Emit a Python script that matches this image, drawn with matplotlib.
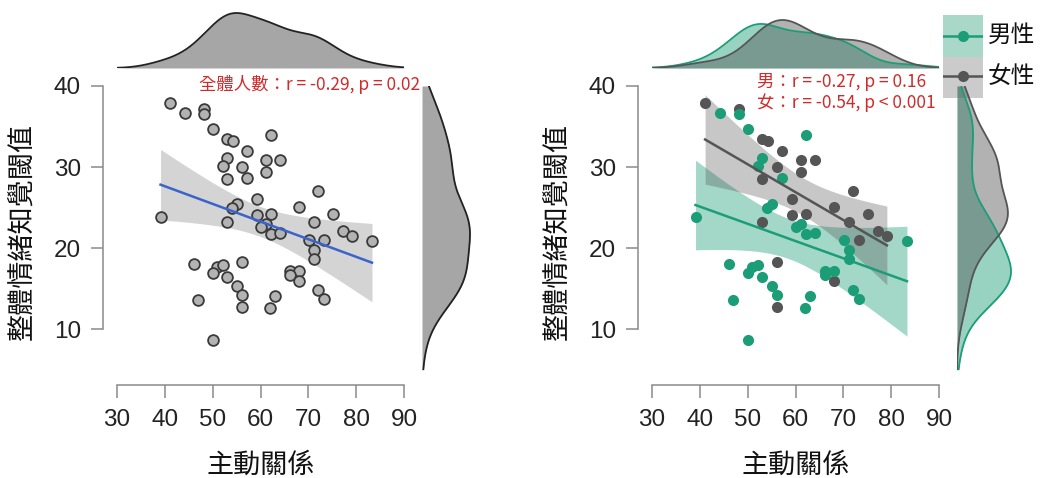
import numpy as np
import matplotlib
matplotlib.use('Agg')
import matplotlib.pyplot as plt
from matplotlib.patches import Rectangle

plt.rcParams['font.family'] = ['Noto Sans CJK TC', 'DejaVu Sans']

# 主動關係 (x), 整體情緒知覺閾值 (y), sex
active = [41.1, 44.2, 48.1, 48.1, 50.1, 53.1, 54.2, 62.1, 57.1, 53.1,
          52.1, 56.1, 61.1, 64.1, 61.1, 53.1, 57.1, 72.1, 59.2, 55.0,
          54.0, 68.1, 39.1, 53.1, 59.2, 62.2, 61.1, 60.1, 62.2, 64.1,
          71.1, 75.1, 70.2, 73.2, 77.2, 79.1, 83.3, 71.1, 71.1, 46.1,
          51.0, 52.1, 50.1, 53.1, 56.1, 66.1, 68.1, 66.1, 68.1, 55.0,
          56.1, 72.1, 73.2, 47.0, 56.1, 63.1, 62.0, 50.1]
thresh = [37.9, 36.7, 37.2, 36.5, 34.7, 33.5, 33.2, 34.0, 32.0, 31.1,
          30.1, 30.0, 30.9, 30.9, 29.4, 28.5, 28.7, 27.1, 26.1, 25.4,
          25.0, 25.1, 23.8, 23.3, 24.1, 24.2, 23.0, 22.6, 21.8, 21.9,
          23.3, 24.2, 21.0, 21.0, 22.1, 21.5, 20.9, 19.8, 18.7, 18.1,
          17.7, 17.9, 16.9, 16.5, 18.3, 17.2, 17.2, 16.7, 16.0, 15.3,
          14.3, 14.8, 13.7, 13.6, 12.8, 14.1, 12.7, 8.7]
sex = ['F', 'M', 'F', 'M', 'M', 'F', 'F', 'M', 'F', 'M',
       'M', 'F', 'F', 'F', 'F', 'F', 'M', 'F', 'F', 'M',
       'M', 'F', 'M', 'F', 'F', 'F', 'M', 'M', 'M', 'M',
       'F', 'F', 'M', 'F', 'F', 'F', 'M', 'M', 'M', 'M',
       'M', 'M', 'M', 'M', 'F', 'M', 'M', 'M', 'F', 'M',
       'M', 'M', 'M', 'M', 'F', 'M', 'M', 'M']

xticks = [30, 40, 50, 60, 70, 80, 90]
yticks = [10, 20, 30, 40]
xlabel = '主動關係'
ylabel = '整體情緒知覺閾值'
txt_all = '全體人數：r = -0.29, p = 0.02'
txt_m = '男：r = -0.27, p = 0.16'
txt_f = '女：r = -0.54, p < 0.001'
legend_labels = ['男性', '女性']

GREEN = '#1b9e77'
DARK = '#555555'
RED = '#d02b2b'
AXC = '#8a8a8a'

x_all = np.array(active)
y_all = np.array(thresh)
is_m = np.array(sex) == 'M'
t_crit = {56: 2.003, 32: 2.037, 22: 2.074}

W, H = 1043, 478
fig = plt.figure(figsize=(W / 100, H / 100), dpi=100)


def rect(x0, y0, x1, y1):
    return [x0 / W, 1 - y1 / H, (x1 - x0) / W, (y1 - y0) / H]


def kde(v, grid):
    n = len(v)
    iqr = np.subtract(*np.percentile(v, [75, 25]))
    bw = 0.9 * min(v.std(ddof=1), iqr / 1.34) * n ** -0.2
    z = (grid[:, None] - v[None, :]) / bw
    return np.exp(-0.5 * z ** 2).sum(1) / (n * bw * np.sqrt(2 * np.pi))


def fit_ci(x, y):
    n = len(x)
    grid = np.linspace(x.min(), x.max(), 100)
    b, a = np.polyfit(x, y, 1)
    s = np.sqrt(((y - (a + b * x)) ** 2).sum() / (n - 2))
    se = s * np.sqrt(1 / n + (grid - x.mean()) ** 2 / ((x - x.mean()) ** 2).sum())
    fit = a + b * grid
    t = t_crit[n - 2]
    return grid, fit, fit - t * se, fit + t * se


# legend first so it sits under the marginal densities
lax = fig.add_axes(rect(943, 15, 983, 98))
lax.set_xlim(0, 1)
lax.set_ylim(0, 1)
lax.axis('off')
lax.add_patch(Rectangle((0, 0.5), 1, 0.5, color='#a9d8c8', lw=0))
lax.add_patch(Rectangle((0, 0), 1, 0.5, color='#cbcbcb', lw=0))
for yy, c, lab in [(0.75, GREEN, legend_labels[0]), (0.26, DARK, legend_labels[1])]:
    lax.plot([0, 0.5, 1], [yy, yy, yy], color=c, lw=1.8, marker='o', ms=7,
             markevery=[1])
    lax.text(1.12, yy, lab, fontsize=17, va='center', ha='left', color='#111111',
             transform=lax.transAxes, clip_on=False)


def make_panel(dx):
    ax = fig.add_axes(rect(117 + dx, 86, 404 + dx, 370))
    top = fig.add_axes(rect(117 + dx, 8, 404 + dx, 68))
    side = fig.add_axes(rect(422 + dx, 86, 482 + dx, 370))
    ax.set_xlim(30, 90)
    ax.set_ylim(5, 40)
    for s in ['top', 'right']:
        ax.spines[s].set_visible(False)
    ax.spines['left'].set_position(('outward', 10))
    ax.spines['bottom'].set_position(('outward', 11))
    ax.spines['left'].set_bounds(10, 40)
    ax.spines['bottom'].set_bounds(30, 90)
    for s in ['left', 'bottom']:
        ax.spines[s].set_color(AXC)
        ax.spines[s].set_linewidth(1.1)
    ax.set_xticks(xticks)
    ax.set_yticks(yticks)
    ax.tick_params(length=9, width=1.1, color=AXC, labelsize=17.5,
                   labelcolor='#222222')
    ax.tick_params(axis='x', pad=8)
    ax.tick_params(axis='y', pad=7)
    plt.setp(ax.get_xticklabels() + ax.get_yticklabels(), family='Liberation Sans')
    ax.patch.set_visible(False)
    ax.text(0.5, -0.335, xlabel, fontsize=19.5, ha='center', va='center',
            transform=ax.transAxes, color='#111111')
    ax.text(-0.331, 0.489, ylabel, fontsize=19.5, ha='center', va='center',
            rotation=90, transform=ax.transAxes, color='#111111')
    top.set_xlim(30, 90)
    side.set_ylim(5, 40)
    top.axis('off')
    side.axis('off')
    return ax, top, side


gx = np.linspace(30, 90, 300)
gy = np.linspace(5, 40, 300)

# left panel: everyone
ax, top, side = make_panel(0)
g, fit, lo, hi = fit_ci(x_all, y_all)
ax.fill_between(g, lo, hi, color='#d4d4d4', lw=0, zorder=1)
ax.scatter(x_all, y_all, s=60, facecolor='#b3b3b3', edgecolor='#3a3a3a',
           linewidth=1.3, zorder=3, clip_on=False)
ax.plot(g, fit, color='#3a64cc', lw=1.8, zorder=4)
ax.text(0.672, 1.004, txt_all, color=RED, fontsize=12.5,
        ha='center', va='center', transform=ax.transAxes)

dtop = kde(x_all, gx)
top.fill_between(gx, 0, dtop, color='#a6a6a6', lw=0)
top.plot(gx, dtop, color='#222222', lw=1.3)
top.set_ylim(0, dtop.max() * 60 / 55)
dside = kde(y_all, gy)
side.fill_betweenx(gy, 0, dside, color='#a6a6a6', lw=0)
side.plot(dside, gy, color='#222222', lw=1.3)
side.set_xlim(0, dside.max() * 60 / 48)

# right panel: by sex
ax, top, side = make_panel(535)
groups = [(is_m, GREEN, 0.40), (~is_m, DARK, 0.33)]
for mask, c, a in groups:
    g, fit, lo, hi = fit_ci(x_all[mask], y_all[mask])
    ax.fill_between(g, lo, hi, color=c, alpha=a, lw=0, zorder=1)
ax.scatter(x_all[~is_m], y_all[~is_m], s=64, color=DARK, lw=0, zorder=3,
           clip_on=False)
ax.scatter(x_all[is_m], y_all[is_m], s=64, color=GREEN, lw=0, zorder=3,
           clip_on=False)
for mask, c, a in groups:
    g, fit, lo, hi = fit_ci(x_all[mask], y_all[mask])
    ax.plot(g, fit, color=c, lw=1.8, zorder=4)
ax.text(0.366, 1.014, txt_m, color=RED, fontsize=12.5,
        ha='left', va='center', transform=ax.transAxes)
ax.text(0.366, 0.940, txt_f, color=RED, fontsize=12.5,
        ha='left', va='center', transform=ax.transAxes)

tops = [kde(x_all[m], gx) for m, _, _ in groups]
sides = [kde(y_all[m], gy) for m, _, _ in groups]
for (m, c, a), dt, ds in zip(groups, tops, sides):
    top.fill_between(gx, 0, dt, color=c, alpha=0.45, lw=0)
    top.plot(gx, dt, color=c, lw=1.3)
    side.fill_betweenx(gy, 0, ds, color=c, alpha=0.45, lw=0)
    side.plot(ds, gy, color=c, lw=1.3)
top.set_ylim(0, max(d.max() for d in tops) * 60 / 48)
side.set_xlim(0, max(d.max() for d in sides) * 60 / 54)

fig.savefig('out.png', dpi=100)
